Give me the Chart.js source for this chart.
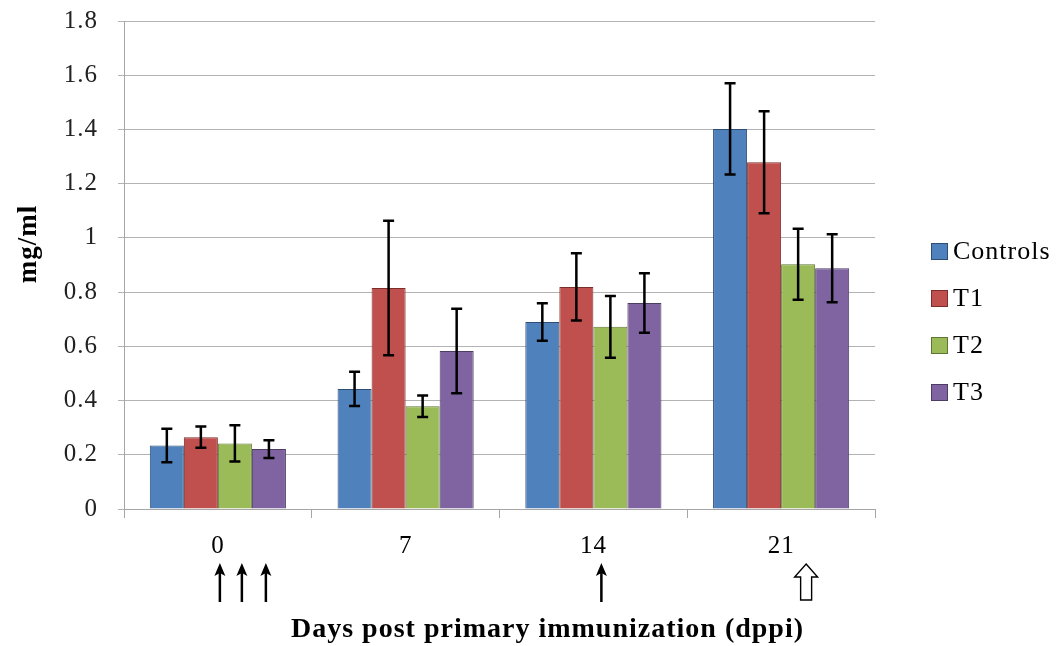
<!DOCTYPE html>
<html>
<head>
<meta charset="utf-8">
<script src="https://cdn.jsdelivr.net/npm/chart.js@4"></script>
<style>
  html, body { margin: 0; padding: 0; background: #fff; }
  #wrap { position: relative; width: 1060px; height: 646px; }
  #legend { position: absolute; left: 931px; top: 228px; font-family: "Liberation Serif", serif; font-size: 26px; letter-spacing: 1px; color: #000; }
  #legend .item { height: 47px; display: flex; align-items: center; }
  #legend .box { width: 15px; height: 15px; border: 1px solid #444; margin-right: 5px; flex: none; }
  #legend span { line-height: 1; position: relative; top: -1px; }
</style>
</head>
<body>
<div id="wrap">
  <canvas id="c" width="1060" height="646"></canvas>
  <div id="legend"></div>
</div>
<script>
// ---- data ----
const categories = ['0', '7', '14', '21'];
const seriesNames = ['Controls', 'T1', 'T2', 'T3'];
const controls = [0.234, 0.443, 0.690, 1.402];
const t1 = [0.265, 0.815, 0.819, 1.279];
const t2 = [0.242, 0.379, 0.672, 0.903];
const t3 = [0.221, 0.583, 0.760, 0.888];
const controlsErr = [0.062, 0.063, 0.069, 0.168];
const t1Err = [0.039, 0.248, 0.124, 0.188];
const t2Err = [0.067, 0.040, 0.114, 0.131];
const t3Err = [0.033, 0.156, 0.110, 0.125];
const yTickLabels = ['0', '0.2', '0.4', '0.6', '0.8', '1', '1.2', '1.4', '1.6', '1.8'];
const yAxisTitle = 'mg/ml';
const xAxisTitle = 'Days post primary immunization (dppi)';

// ---- styles ----
const fills = ['#4F81BD', '#C0504D', '#9BBB59', '#8064A2'];
const borders = ['#2f4d73', '#7a2f2d', '#5f7535', '#4d3c63'];
const serif = '"Liberation Serif", "Times New Roman", serif';

const values = [controls, t1, t2, t3];
const errors = [controlsErr, t1Err, t2Err, t3Err];

// arrow annotations: [category index, pixel offset from category centre, type]
const arrowMarks = [[0, 2, 'solid'], [0, 24, 'solid'], [0, 48, 'solid'], [2, 8, 'solid'], [3, 25, 'hollow']];

const spacingPlugin = {
  id: 'spacing',
  beforeLayout(chart) { chart.ctx.letterSpacing = '1px'; },
  beforeDraw(chart) { chart.ctx.letterSpacing = '1px'; }
};

const titlesPlugin = {
  id: 'axisTitles',
  afterDraw(chart) {
    const ctx = chart.ctx;
    const ca = chart.chartArea;
    ctx.save();
    ctx.letterSpacing = '1px';
    ctx.fillStyle = '#000';
    ctx.textAlign = 'center';
    ctx.textBaseline = 'middle';
    ctx.font = 'bold 28px ' + serif;
    ctx.fillText(xAxisTitle, (ca.left + ca.right) / 2 + 48, ca.bottom + 121);
    ctx.font = 'bold 27px ' + serif;
    ctx.translate(29, (ca.top + ca.bottom) / 2 - 21);
    ctx.rotate(-Math.PI / 2);
    ctx.fillText(yAxisTitle, 0, 0);
    ctx.restore();
  }
};

const errorBarPlugin = {
  id: 'errorBars',
  afterDatasetsDraw(chart) {
    const ctx = chart.ctx;
    const y = chart.scales.y;
    ctx.save();
    ctx.strokeStyle = '#000';
    ctx.lineWidth = 2.5;
    chart.data.datasets.forEach((ds, i) => {
      const meta = chart.getDatasetMeta(i);
      meta.data.forEach((el, j) => {
        const v = ds.data[j], e = errors[i][j];
        const top = y.getPixelForValue(v + e);
        const bot = y.getPixelForValue(v - e);
        const x = el.x;
        ctx.beginPath();
        ctx.moveTo(x, top); ctx.lineTo(x, bot);
        ctx.moveTo(x - 5.5, top); ctx.lineTo(x + 5.5, top);
        ctx.moveTo(x - 5.5, bot); ctx.lineTo(x + 5.5, bot);
        ctx.stroke();
      });
    });
    ctx.restore();
  }
};

const arrowPlugin = {
  id: 'arrows',
  afterDraw(chart) {
    const ctx = chart.ctx;
    const xs = chart.scales.x;
    const base = chart.chartArea.bottom;
    const tipY = base + 54, endY = base + 93;
    ctx.save();
    arrowMarks.forEach(([ci, off, type]) => {
      const x = xs.getPixelForValue(ci) + off;
      if (type === 'solid') {
        ctx.strokeStyle = '#000';
        ctx.fillStyle = '#000';
        ctx.lineWidth = 2.5;
        ctx.beginPath();
        ctx.moveTo(x, tipY + 10); ctx.lineTo(x, endY);
        ctx.stroke();
        ctx.beginPath();
        ctx.moveTo(x, tipY);
        ctx.lineTo(x - 5.5, tipY + 13);
        ctx.lineTo(x, tipY + 10);
        ctx.lineTo(x + 5.5, tipY + 13);
        ctx.closePath();
        ctx.fill();
      } else {
        ctx.strokeStyle = '#000';
        ctx.fillStyle = '#fff';
        ctx.lineWidth = 1.4;
        ctx.beginPath();
        ctx.moveTo(x, tipY + 1);
        ctx.lineTo(x + 11.5, tipY + 14);
        ctx.lineTo(x + 5.5, tipY + 14);
        ctx.lineTo(x + 5.5, endY - 2);
        ctx.lineTo(x - 5.5, endY - 2);
        ctx.lineTo(x - 5.5, tipY + 14);
        ctx.lineTo(x - 11.5, tipY + 14);
        ctx.closePath();
        ctx.fill();
        ctx.stroke();
      }
    });
    ctx.restore();
  }
};

const chart = new Chart(document.getElementById('c'), {
  type: 'bar',
  data: {
    labels: categories,
    datasets: seriesNames.map((name, i) => ({
      label: name,
      data: values[i],
      backgroundColor: fills[i],
      borderColor: borders[i],
      borderWidth: 1,
      categoryPercentage: 0.725,
      barPercentage: 1.0
    }))
  },
  options: {
    responsive: false,
    devicePixelRatio: 1,
    animation: false,
    layout: { padding: { left: 13, right: 185, top: 0, bottom: 0 } },
    plugins: { legend: { display: false }, tooltip: { enabled: false } },
    scales: {
      x: {
        grid: { drawOnChartArea: false, color: '#a6a6a6', tickLength: 9, offset: true },
        border: { color: '#a6a6a6', width: 1 },
        ticks: { color: '#000', font: { family: serif, size: 25 }, padding: 13 },
        title: { display: false },
        afterFit(scale) { scale.height = 137; }
      },
      y: {
        min: 0, max: 1.8,
        ticks: {
          stepSize: 0.2,
          color: '#222',
          font: { family: serif, size: 25 },
          padding: 20,
          callback: (v) => yTickLabels[Math.round(v / 0.2)]
        },
        grid: { color: '#b3b3b3', tickLength: 6 },
        border: { color: '#a6a6a6', width: 1 },
        title: { display: false },
        afterFit(scale) {
          scale.width = 111;
          scale.paddingTop = 21;
          scale.paddingBottom = 15;
        }
      }
    }
  },
  plugins: [spacingPlugin, errorBarPlugin, arrowPlugin, titlesPlugin]
});

// HTML legend built from the series arrays
const legend = document.getElementById('legend');
seriesNames.forEach((name, i) => {
  const item = document.createElement('div');
  item.className = 'item';
  const box = document.createElement('div');
  box.className = 'box';
  box.style.background = fills[i];
  box.style.borderColor = borders[i];
  const txt = document.createElement('span');
  txt.textContent = name;
  item.appendChild(box);
  item.appendChild(txt);
  legend.appendChild(item);
});
</script>
</body>
</html>
